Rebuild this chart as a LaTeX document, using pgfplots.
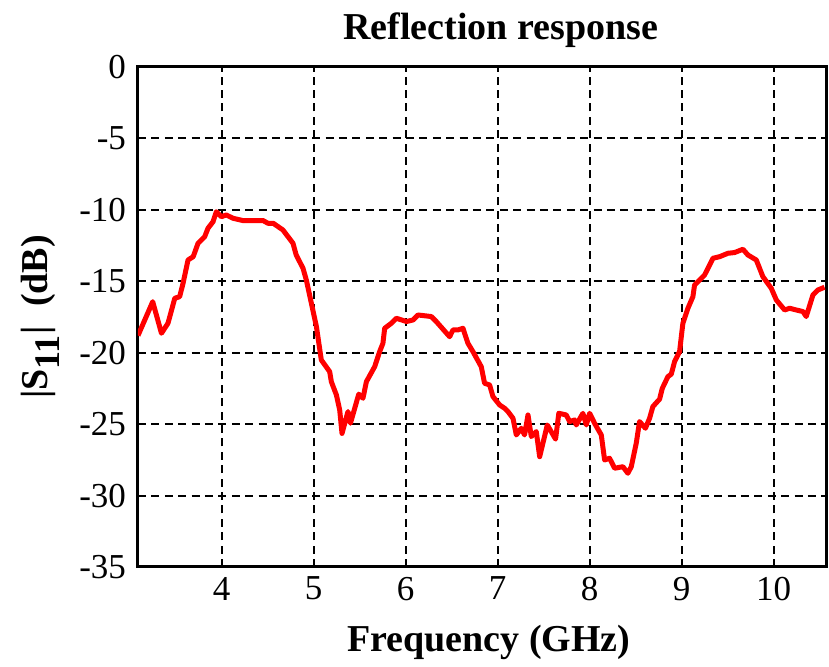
\documentclass[border=0pt]{standalone}
\usepackage{pgfplots}
\pgfplotsset{compat=1.18}
\usepackage{fontspec}
\setmainfont{Liberation Serif}
\begin{document}
\begin{tikzpicture}
\begin{axis}[
  name=ax,
  scale only axis,
  width=344pt, height=250pt,
  xmin=3.09, xmax=10.57,
  ymin=-35, ymax=0,
  xtick={4,5,6,7,8,9,10},
  ytick={-35,-30,-25,-20,-15,-10,-5,0},
  grid=major,
  major grid style={black, line width=1pt, dash pattern=on 4pt off 2.7pt},
  axis line style={black, line width=1.5pt},
  tick align=inside,
  major tick length=2.5pt,
  tick style={black, line width=1pt},
  /pgf/number format/assume math mode=true,
  ticklabel style={font=\fontsize{17.5}{20}\selectfont},
  yticklabel style={xshift=-2.5pt},
  xticklabel style={yshift=-1.5pt},
  title={\textbf{Reflection response}},
  title style={font=\fontsize{19}{22}\selectfont, at={(axis description cs:0.527,1.054)}, anchor=base, yshift=-6pt},
  xlabel={\textbf{Frequency (GHz)}},
  xlabel style={font=\fontsize{19}{22}\selectfont, at={(axis description cs:0.51,-0.17)}, anchor=base},
  ylabel={\textbf{|S\textsubscript{\fontsize{18}{20}\selectfont 11}|\ \ (dB)}},
  ylabel style={font=\fontsize{19}{22}\selectfont, at={(axis description cs:-0.142,0.5)}, anchor=center},
]
\addplot[red, line width=2.5pt, line join=round] coordinates {
(3.09,-18.8) (3.25,-16.43) (3.345,-18.64) (3.416,-17.94) (3.49,-16.19)
(3.543,-16.08) (3.58,-15.14) (3.634,-13.51) (3.69,-13.28) (3.743,-12.34)
(3.815,-11.88) (3.851,-11.29) (3.906,-10.83) (3.942,-10.13) (3.996,-10.48)
(4.05,-10.36) (4.123,-10.59) (4.23,-10.75) (4.45,-10.75) (4.503,-10.94)
(4.56,-10.94) (4.666,-11.41) (4.775,-12.34) (4.81,-13.16) (4.884,-14.09)
(4.92,-14.91) (4.975,-16.54) (5.03,-18.18) (5.083,-20.51) (5.174,-21.33)
(5.192,-22.03) (5.247,-22.96) (5.283,-24.01) (5.308,-25.65) (5.373,-24.12)
(5.40,-24.94) (5.49,-22.9) (5.536,-23.19) (5.573,-22.03) (5.663,-20.98)
(5.717,-19.93) (5.753,-19.34) (5.772,-18.29) (5.845,-17.94) (5.899,-17.59)
(6.008,-17.82) (6.08,-17.71) (6.134,-17.36) (6.279,-17.47) (6.333,-17.82)
(6.478,-18.88) (6.514,-18.41) (6.568,-18.41) (6.623,-18.29) (6.677,-19.34)
(6.732,-19.93) (6.822,-20.98) (6.858,-22.14) (6.913,-22.26) (6.949,-23.07)
(7.022,-23.66) (7.076,-23.89) (7.112,-24.12) (7.167,-24.59) (7.203,-25.76)
(7.257,-25.29) (7.293,-25.76) (7.33,-24.36) (7.366,-25.87) (7.42,-25.52)
(7.457,-27.28) (7.54,-25.06) (7.63,-26.05) (7.665,-24.24) (7.746,-24.36)
(7.783,-24.82) (7.837,-24.71) (7.855,-25.06) (7.927,-24.24) (7.964,-25.06)
(8.0,-24.24) (8.054,-24.94) (8.127,-25.76) (8.163,-27.51) (8.217,-27.39)
(8.272,-28.09) (8.362,-27.98) (8.416,-28.44) (8.453,-27.98) (8.507,-26.34)
(8.543,-24.82) (8.607,-25.29) (8.652,-24.59) (8.688,-23.77) (8.761,-23.25)
(8.79,-22.5) (8.851,-21.68) (8.888,-21.5) (8.924,-20.62) (8.978,-19.93)
(9.014,-17.94) (9.069,-16.89) (9.123,-16.08) (9.141,-15.26) (9.196,-14.91)
(9.25,-14.56) (9.341,-13.39) (9.413,-13.28) (9.504,-13.04) (9.576,-12.99)
(9.667,-12.76) (9.721,-13.16) (9.812,-13.51) (9.884,-14.68) (9.975,-15.49)
(10.03,-16.31) (10.12,-17.01) (10.174,-16.89) (10.247,-17.01) (10.319,-17.12)
(10.355,-17.47) (10.428,-15.96) (10.482,-15.61) (10.554,-15.42)
};
\end{axis}
\path (ax.south west) ++(-69pt,-47.5pt);
\path (ax.north east) ++(1.5pt,33.5pt);
\end{tikzpicture}
\end{document}
